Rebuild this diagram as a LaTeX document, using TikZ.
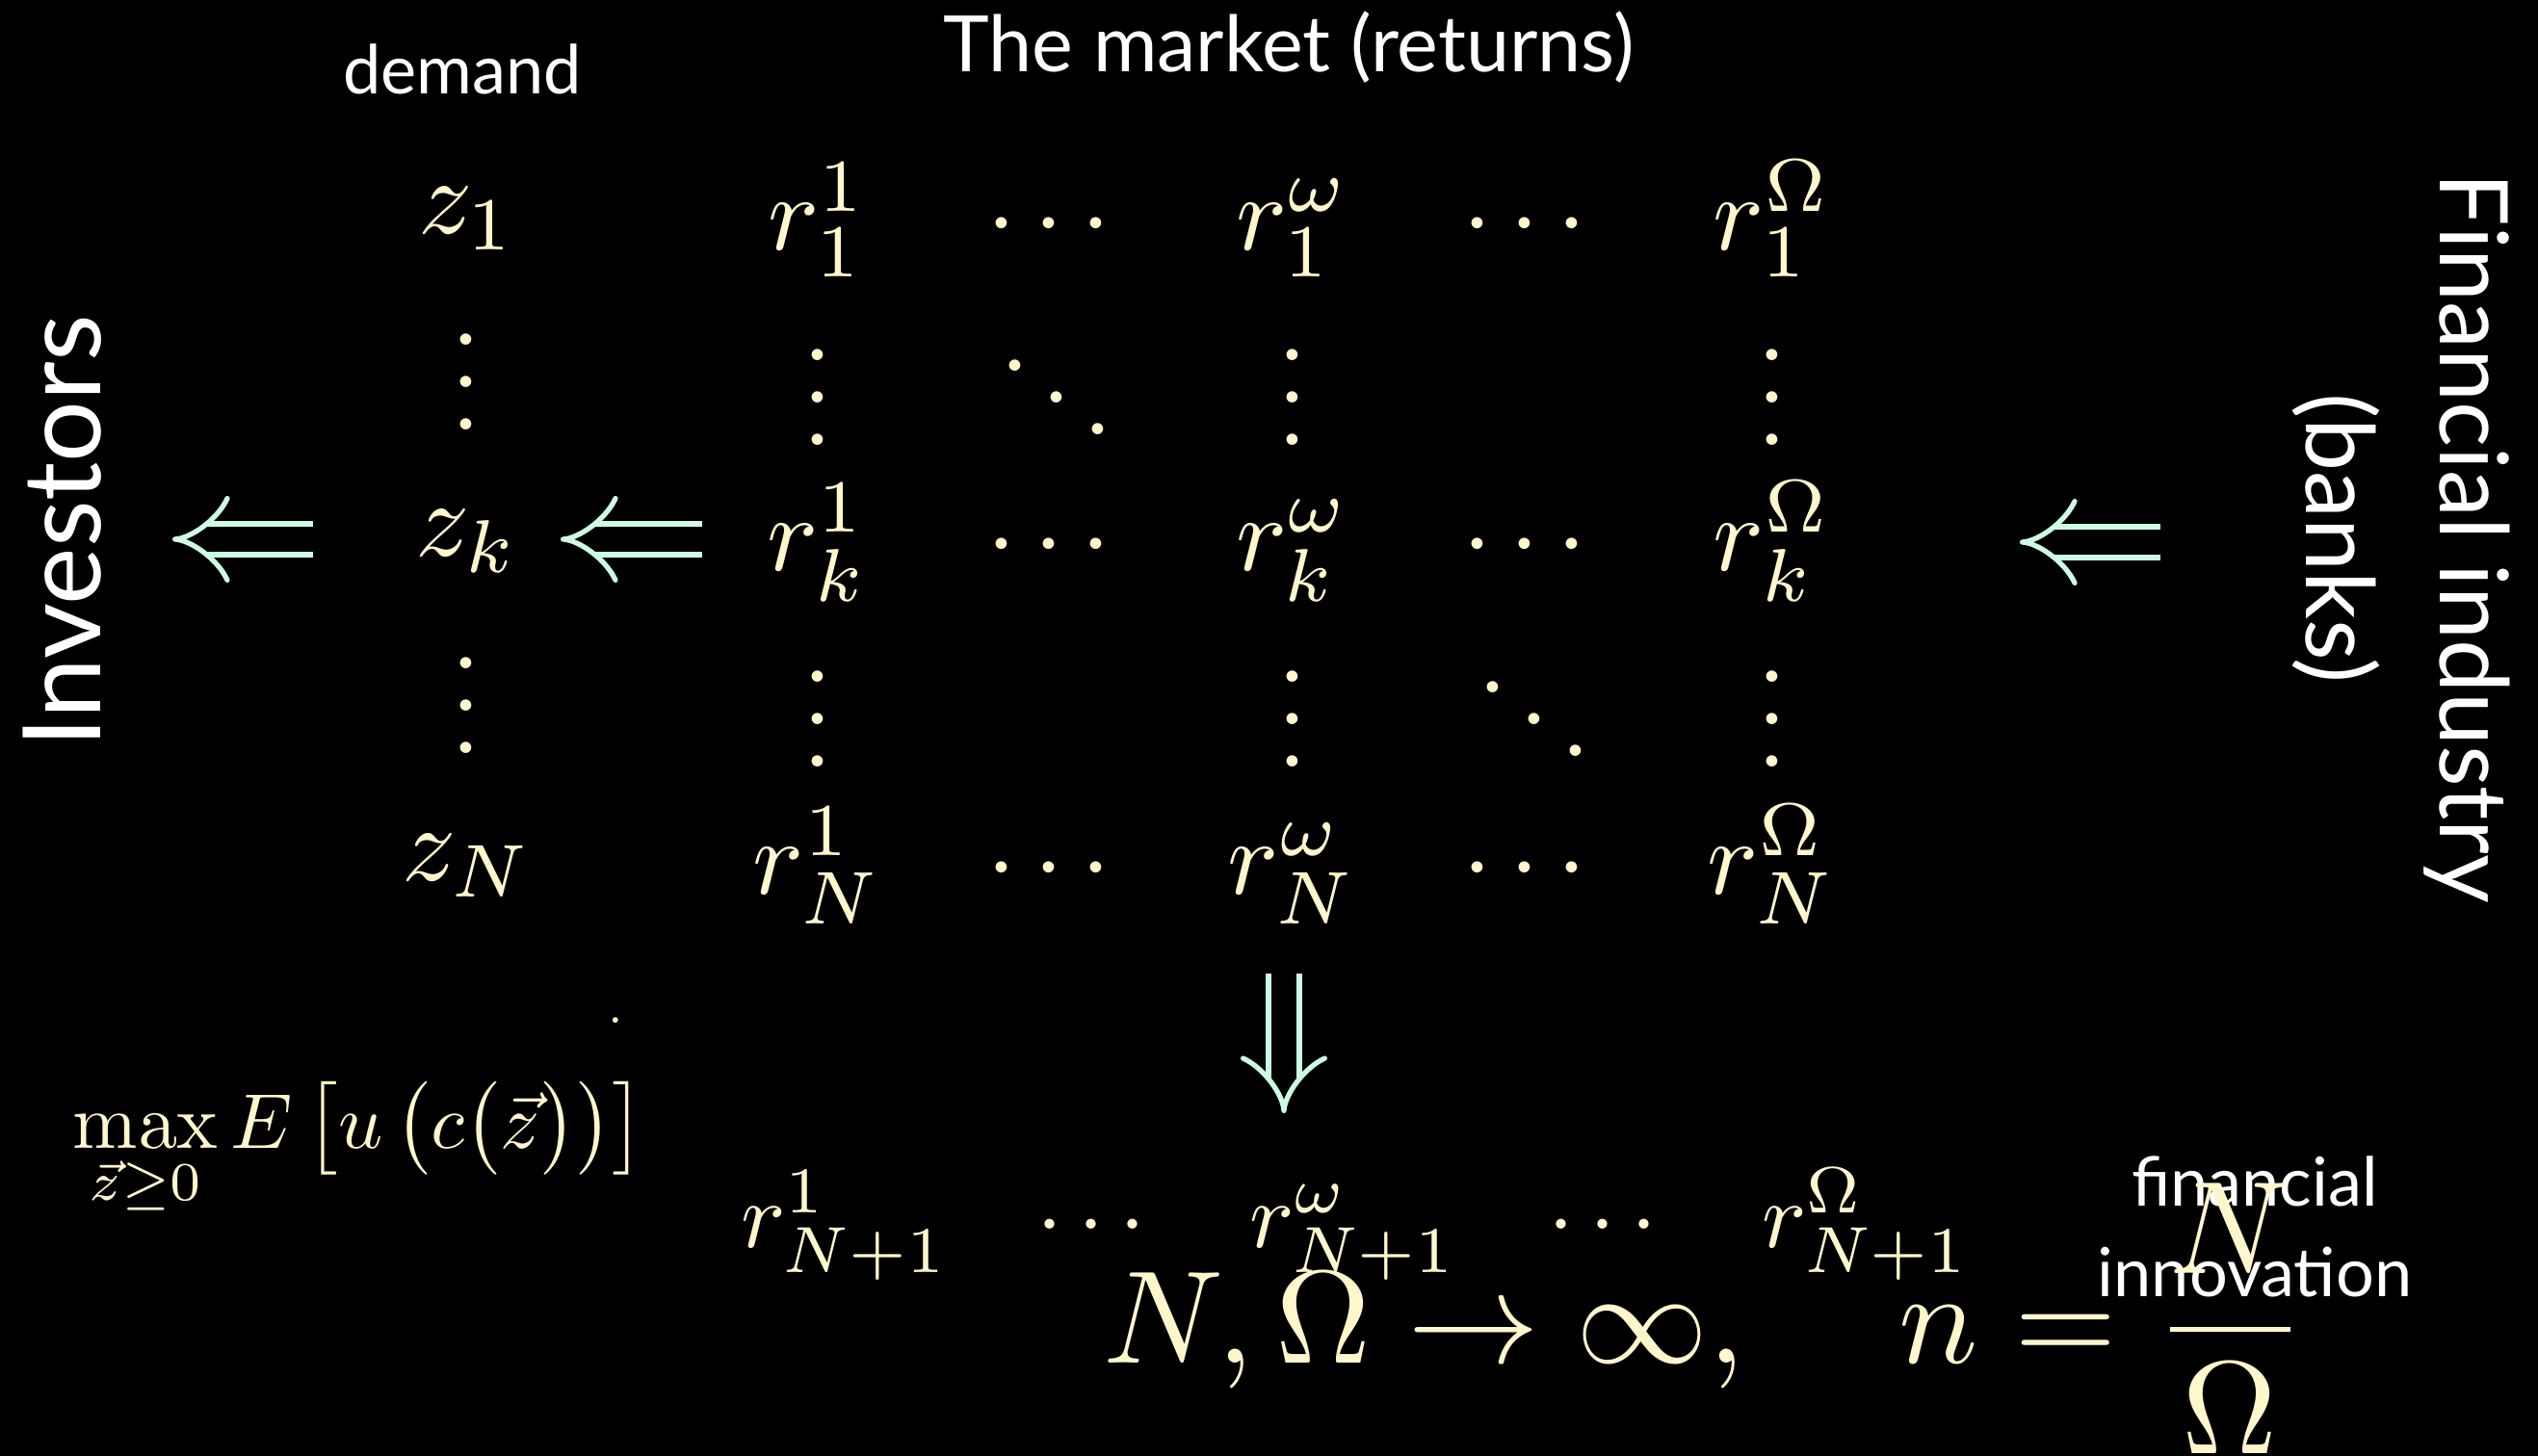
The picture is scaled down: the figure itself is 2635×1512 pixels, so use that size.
\documentclass[tikz,border=0pt]{standalone}
\usepackage[no-math]{fontspec}
\usepackage{graphicx}
\usetikzlibrary{arrows.meta}
\newfontfamily\gillsans{Lato}
\definecolor{mathc}{RGB}{255,246,204}
\definecolor{arrc}{RGB}{204,250,226}
\tikzset{
  mth/.style={text=mathc, inner sep=0pt, anchor=base},
  lbl/.style={text=white, inner sep=0pt},
  dblarr/.style={draw=arrc, line width=1.5pt, double=black, double distance=7.6pt, -{Implies}},
}
\newcommand\mA[1]{\scalebox{3.16}{$#1$}}
\newcommand\mB[1]{\scalebox{2.76}{$#1$}}
\begin{document}
\begin{tikzpicture}[x=0.1mm,y=-0.1mm]
\fill[black] (0,0) rectangle (2635,1512);
\useasboundingbox (0,0) rectangle (2635,1512);

% headings
\node[lbl, anchor=base, font={\gillsans\fontsize{20}{24}\selectfont}] (demand) at (480,98) {demand};
\node[lbl, anchor=base, font={\gillsans\fontsize{23}{28}\selectfont}] (market) at (1338,75) {The market (returns)};
\node[lbl, anchor=base, rotate=90, font={\gillsans\fontsize{32}{38}\selectfont}] (investors) at (105,552) {Investors};
\node[lbl, rotate=-90, align=center, font={\gillsans\fontsize{28}{39.5}\selectfont}] (industry) at (2493,559) {Financial industry\\(banks)};
\node[lbl, align=center, font={\gillsans\fontsize{20}{26.7}\selectfont}] (innov) at (2341,1274) {financial\\innovation};

% demand vector
\node[mth] (z1) at (485,243) {\mA{z_1}};
\node[mth] (zd1) at (484,447) {\mA{\vdots}};
\node[mth] (zk) at (485,578) {\mA{z_k}};
\node[mth] (zd2) at (484,783) {\mA{\vdots}};
\node[mth] (zN) at (485,915) {\mA{z_N}};

% returns matrix
\node[mth] (r11) at (849,260) {\mA{r_1^1}};
\node[mth] (c11) at (1089,260) {\mA{\cdots}};
\node[mth] (r1w) at (1342,260) {\mA{r_1^\omega}};
\node[mth] (c12) at (1583,260) {\mA{\cdots}};
\node[mth] (r1O) at (1840,260) {\mA{r_1^\Omega}};

\node[mth] (v11) at (849,463) {\mA{\vdots}};
\node[mth] (d1) at (1097,463) {\mA{\ddots}};
\node[mth] (v1w) at (1342,463) {\mA{\vdots}};
\node[mth] (v1O) at (1840,463) {\mA{\vdots}};

\node[mth] (rk1) at (849,593) {\mA{r_k^1}};
\node[mth] (ck1) at (1089,593) {\mA{\cdots}};
\node[mth] (rkw) at (1342,593) {\mA{r_k^\omega}};
\node[mth] (ck2) at (1583,593) {\mA{\cdots}};
\node[mth] (rkO) at (1840,593) {\mA{r_k^\Omega}};

\node[mth] (v21) at (849,797) {\mA{\vdots}};
\node[mth] (v2w) at (1342,797) {\mA{\vdots}};
\node[mth] (d2) at (1593,797) {\mA{\ddots}};
\node[mth] (v2O) at (1840,797) {\mA{\vdots}};

\node[mth] (rN1) at (849,929) {\mA{r_N^1}};
\node[mth] (cN1) at (1089,929) {\mA{\cdots}};
\node[mth] (rNw) at (1342,929) {\mA{r_N^\omega}};
\node[mth] (cN2) at (1583,929) {\mA{\cdots}};
\node[mth] (rNO) at (1840,929) {\mA{r_N^\Omega}};

% new row
\node[mth] (rP1) at (877,1295) {\mB{r_{N+1}^1}};
\node[mth] (cP1) at (1133,1295) {\mB{\cdots}};
\node[mth] (rPw) at (1405,1295) {\mB{r_{N+1}^\omega}};
\node[mth] (cP2) at (1664,1295) {\mB{\cdots}};
\node[mth] (rPO) at (1937,1295) {\mB{r_{N+1}^\Omega}};

% stray dot
\node[mth, anchor=center, font=\fontsize{20}{24}\selectfont] (stray) at (639,1060) {.};

% investor problem
\node[mth, anchor=base west] (maxf) at (75,1192) {\scalebox{2.3}{$\displaystyle\max_{\vec z\geq 0} E\,\bigl[u\,\bigl(c\bigl(\vec z\bigr)\bigr)\bigr]$}};

% limit
\node[mth, anchor=base west] (limit) at (1145,1415) {\scalebox{3.9}{$\displaystyle N,\Omega\to\infty,\quad n=\frac{N}{\Omega}$}};

% arrows
\coordinate (a1s) at (325,560); \coordinate (a1e) at (179,560);
\coordinate (a2s) at (729,560); \coordinate (a2e) at (582,560);
\coordinate (a3s) at (2243,563); \coordinate (a3e) at (2097,563);
\coordinate (a4s) at (1333,1011); \coordinate (a4e) at (1333,1156);
\draw[dblarr] (a1s) -- (a1e);
\draw[dblarr] (a2s) -- (a2e);
\draw[dblarr] (a3s) -- (a3e);
\draw[dblarr] (a4s) -- (a4e);
\end{tikzpicture}
\end{document}
